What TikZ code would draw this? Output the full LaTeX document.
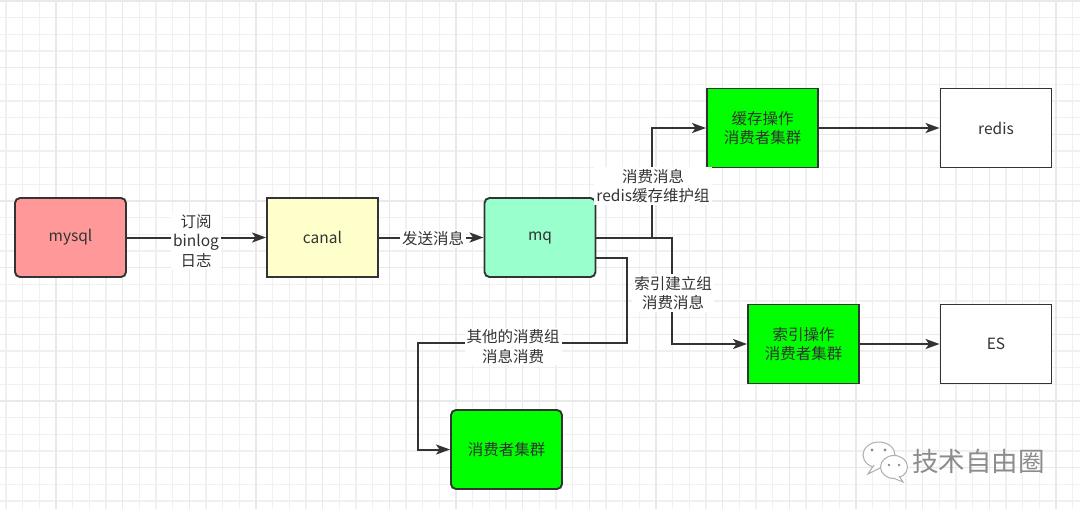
\documentclass[tikz,border=0pt]{standalone}
\usepackage{fontspec}
\setmainfont{Noto Sans CJK SC}
\usetikzlibrary{arrows.meta,calc}
\definecolor{edge}{HTML}{333333}
\definecolor{txt}{HTML}{333333}
\definecolor{cmysql}{HTML}{FF9999}
\definecolor{ccanal}{HTML}{FFFFCC}
\definecolor{cmq}{HTML}{99FFCC}
\definecolor{cgreen}{HTML}{00FF00}
\definecolor{gminor}{HTML}{F0F0F0}
\definecolor{gmajor}{HTML}{E9E9E9}
\definecolor{wm}{HTML}{8C8C8C}
\tikzset{
  box/.style={draw=edge, line width=1.9pt, minimum width=111pt, minimum height=79pt,
    inner sep=0pt, align=center, text=txt, font=\fontsize{15.5}{19}\selectfont},
  rbox/.style={box, rounded corners=5pt},
  lbl/.style={fill=white, inner sep=2pt, align=center, text=txt, font=\fontsize{15.5}{19.5}\selectfont},
  arr/.style={draw=edge, line width=2pt, -{Stealth[length=14pt,width=10pt,inset=3.5pt]}},
}
\begin{document}
\begin{tikzpicture}[x=1pt,y=-1pt]
\useasboundingbox (0,0) rectangle (1080,509);
\fill[white] (0,0) rectangle (1080,509);
% grid
\foreach \k in {0,...,64} \draw[gminor, line width=1.1pt] ({6+16.667*\k},0) -- ({6+16.667*\k},509);
\foreach \k in {0,...,30} \draw[gminor, line width=1.1pt] (0,{1+16.667*\k}) -- (1080,{1+16.667*\k});
\foreach \k in {0,...,16} \draw[gmajor, line width=1.3pt] ({-10.667+66.667*\k},0) -- ({-10.667+66.667*\k},509);
\foreach \k in {0,...,7} \draw[gmajor, line width=1.3pt] (0,{1+66.667*\k}) -- (1080,{1+66.667*\k});

% nodes
\node[rbox, fill=cmysql] (mysql) at (70.5,237.5) {mysql};
\node[box, fill=ccanal] (canal) at (322.5,237.5) {canal};
\node[rbox, fill=cmq] (mq) at (540,237.5) {mq};
\node[box, fill=cgreen] (cache) at (762.5,128) {缓存操作\\消费者集群};
\node[box, fill=white] (redis) at (996,128) {redis};
\node[box, fill=cgreen] (idx) at (803.5,344) {索引操作\\消费者集群};
\node[box, fill=white] (es) at (996,344) {ES};
\node[rbox, fill=cgreen] (other) at (506.5,449.5) {消费者集群};

% connectors
\draw[arr] (mysql) -- (canal);
\draw[arr] (canal) -- (mq);
\draw[arr] (mq.east) -- ++(56,0) |- (cache.west);
\draw[arr] (mq.east) -- ++(76,0) |- (idx.west);
\draw[arr] ([yshift=-20.5pt]mq.east) -- (627,258) -- (627,343) -- (418,343) |- (other.west);
\draw[arr] (cache) -- (redis);
\draw[arr] (idx) -- (es);

% labels
\node[lbl] (l1) at (196,241) {订阅\\binlog\\日志};
\node[lbl] (l2) at (433,239) {发送消息};
\node[lbl] (l3) at (653,186) {消费消息\\redis缓存维护组};
\node[lbl] (l4) at (673,293) {索引建立组\\消费消息};
\node[lbl] (l5) at (513,346.5) {其他的消费组\\消息消费};

% watermark
\draw[wm!70, line width=1pt, fill=white] (879,455) ellipse [x radius=16, y radius=13];
\draw[wm!70, line width=1pt, fill=white] (874,465) -- (868,474) -- (882,467);
\draw[wm!70, line width=1pt, fill=white] (894,467) ellipse [x radius=13.5, y radius=11.5];
\draw[wm!70, line width=1pt, fill=white] (899,476) -- (903,482) -- (893,478);
\fill[wm] (872,450) circle (1.6) (885,450) circle (1.6) (889,465) circle (1.4) (899,465) circle (1.4);
\node[text=wm, font=\fontsize{26.5}{30}\selectfont, inner sep=0pt] (wmt) at (978.5,461) {技术自由圈};
\end{tikzpicture}
\end{document}
